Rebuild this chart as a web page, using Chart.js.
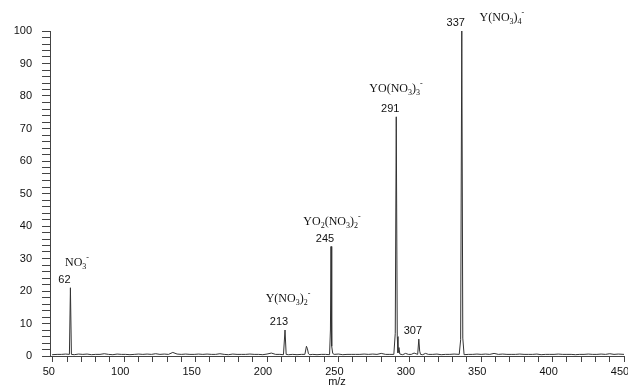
<!DOCTYPE html>
<html>
<head>
<meta charset="utf-8">
<script src="https://cdn.jsdelivr.net/npm/chart.js@4"></script>
<style>
    body { margin: 0; background: #fff; }
    canvas { display: block; }
</style>
</head>
<body>
<canvas id="spectrum" width="628" height="390"></canvas>
<script>
// m/z values and relative intensities
const mzValues = [
    49.5, 53, 56, 59, 61.6, 62.3, 63, 65, 68, 71, 74, 77, 80, 83, 86, 89, 92, 95, 98,
    101, 104, 107, 110, 113, 116, 119, 122, 125, 128, 131, 134, 137, 140, 143, 146, 149,
    152, 155, 158, 161, 164, 167, 170, 173, 176, 179, 182, 185, 188, 191, 194, 197, 200,
    203, 206, 209, 211.5, 212.6, 213.4, 215, 218, 221, 224, 226.5, 227.6, 228.3, 229, 230,
    232, 235, 238, 241, 243.8, 244.4, 244.8, 245.3, 246, 247, 250, 253, 256, 259, 262,
    265, 268, 271, 274, 277, 280, 283, 286, 288.8, 289.8, 290.5, 291.2, 291.7, 292.4, 293,
    295, 297, 299, 301, 303, 305.5, 306.3, 306.9, 307.5, 309, 311, 313, 316, 319, 322,
    325, 328, 331, 334.6, 335.6, 336.4, 337.1, 338, 341, 344, 347, 350, 353, 356, 359,
    362, 365, 368, 371, 374, 377, 380, 383, 386, 389, 392, 395, 398, 401, 404, 407, 410,
    413, 416, 419, 422, 425, 428, 431, 434, 437, 440, 443, 446, 450
];
const intensities = [
    0.4, 0.5, 0.5, 0.6, 0.5, 21, 0.5, 0.4, 0.6, 0.5, 0.6, 0.4, 0.5, 0.5, 0.7, 0.5, 0.4, 0.6, 0.5,
    0.5, 0.4, 0.5, 0.6, 0.5, 0.6, 0.5, 0.7, 0.5, 0.6, 0.5, 1.1, 0.6, 0.5, 0.6, 0.5, 0.5,
    0.6, 0.5, 0.6, 0.5, 0.5, 0.7, 0.5, 0.4, 0.6, 0.5, 0.5, 0.5, 0.6, 0.5, 0.5, 0.4, 0.6,
    0.9, 0.5, 0.5, 0.4, 8, 0.5, 0.4, 0.5, 0.4, 0.5, 0.5, 3, 2.2, 0.7, 0.4,
    0.5, 0.4, 0.5, 0.5, 0.4, 8, 33.7, 3, 0.8, 0.5, 0.6, 0.4, 0.5, 0.5, 0.5,
    0.5, 0.6, 0.5, 0.6, 0.5, 0.8, 0.5, 0.5, 0.5, 7, 73.6, 6, 1.0, 2.6, 0.6,
    0.4, 0.8, 0.5, 0.5, 0.9, 0.5, 5.2, 1.5, 0.5, 0.4, 0.8, 0.5, 0.5, 0.6, 0.4,
    0.5, 0.5, 0.6, 0.5, 5, 100, 5.5, 0.4, 0.5, 0.5, 0.6, 0.5, 0.6, 0.5, 0.8,
    0.5, 0.6, 0.5, 0.5, 0.5, 0.6, 0.5, 0.5, 0.5, 0.6, 0.4, 0.5, 0.5, 0.5, 0.6, 0.5, 0.5,
    0.5, 0.4, 0.5, 0.5, 0.6, 0.5, 0.5, 0.6, 0.5, 0.7, 0.5, 0.6, 0.5
];

// peak numbers written above the peaks
const peakLabels = ['62', '213', '245', '291', '307', '337'];
const peakMz = [62.3, 212.6, 244.8, 290.5, 306.3, 336.4];

// ion formulas: "_" = next char subscript, "^" = next char superscript
const ionNames = ['NO_3^-', 'Y(NO_3)_2^-', 'YO_2(NO_3)_2^-', 'YO(NO_3)_3^-', 'Y(NO_3)_4^-'];
const ionMz = [66.9, 214.7, 245.5, 290.3, 364.5];
const ionLevel = [28.9, 17.8, 41.5, 82.5, 104.3];

const points = mzValues.map((x, i) => ({ x: x, y: intensities[i] }));

function peakHeight(mz) {
    let best = 0;
    mzValues.forEach((x, i) => {
        if (Math.abs(x - mz) < 1.2 && intensities[i] > best) best = intensities[i];
    });
    return best;
}

function drawFormula(ctx, str, cx, cy) {
    const parts = [];
    for (let i = 0; i < str.length; i++) {
        const c = str[i];
        if (c === '_' || c === '^') {
            parts.push({ t: str[i + 1], kind: c === '_' ? 'sub' : 'sup' });
            i++;
        } else {
            parts.push({ t: c, kind: 'normal' });
        }
    }
    const fontFor = k => k === 'normal' ? '12px "Liberation Serif"' : '8px "Liberation Serif"';
    let width = 0;
    parts.forEach(p => {
        ctx.font = fontFor(p.kind);
        p.w = ctx.measureText(p.t).width;
        width += p.w;
    });
    let x = cx - width / 2;
    const base = cy + 4;
    ctx.textBaseline = 'alphabetic';
    ctx.textAlign = 'left';
    parts.forEach(p => {
        ctx.font = fontFor(p.kind);
        let y = base;
        if (p.kind === 'sub') y = base + 3;
        if (p.kind === 'sup') y = base - 6;
        ctx.fillText(p.t, x, y);
        x += p.w;
    });
}

const labelPlugin = {
    id: 'peakLabels',
    afterDraw(chart) {
        const ctx = chart.ctx;
        const xs = chart.scales.x;
        const ys = chart.scales.y;
        ctx.save();
        ctx.fillStyle = '#111';

        // numbers above the peaks
        ctx.font = '11px "Liberation Sans"';
        ctx.textAlign = 'center';
        ctx.textBaseline = 'middle';
        peakLabels.forEach((txt, i) => {
            const px = xs.getPixelForValue(peakMz[i]);
            const py = ys.getPixelForValue(peakHeight(peakMz[i]));
            ctx.fillText(txt, px - 6, py - 8);
        });

        // ion formulas
        ionNames.forEach((name, i) => {
            drawFormula(ctx, name, xs.getPixelForValue(ionMz[i]), ys.getPixelForValue(ionLevel[i]));
        });
        ctx.restore();
    }
};

new Chart(document.getElementById('spectrum'), {
    type: 'line',
    data: {
        datasets: [{
            data: points,
            borderColor: '#333',
            borderWidth: 1,
            pointRadius: 0,
            tension: 0
        }]
    },
    options: {
        responsive: false,
        animation: false,
        layout: { padding: { top: 31, right: 4, left: 0, bottom: 0 } },
        plugins: {
            legend: { display: false },
            tooltip: { enabled: false }
        },
        scales: {
            x: {
                type: 'linear',
                min: 48,
                max: 450,
                afterFit(scale) {
                    scale.height = 34;
                    scale.paddingLeft = 0;
                    scale.paddingRight = 0;
                },
                border: { color: '#444', width: 1 },
                grid: { drawOnChartArea: false, tickLength: 6, color: '#444' },
                ticks: {
                    stepSize: 10,
                    autoSkip: false,
                    includeBounds: false,
                    maxRotation: 0,
                    padding: 3,
                    labelOffset: -4,
                    color: '#111',
                    font: { family: 'Liberation Sans', size: 11 },
                    callback: v => v % 50 === 0 ? v : ''
                },
                title: {
                    display: true,
                    text: 'm/z',
                    color: '#111',
                    font: { family: 'Liberation Sans', size: 11 },
                    padding: { top: 0, bottom: 1 }
                }
            },
            y: {
                min: 0,
                max: 100,
                afterFit(scale) {
                    scale.width = 50;
                },
                border: { color: '#444', width: 1 },
                grid: { drawOnChartArea: false, tickLength: 8, color: '#444' },
                ticks: {
                    stepSize: 2,
                    autoSkip: false,
                    padding: 10,
                    color: '#111',
                    font: { family: 'Liberation Sans', size: 11 },
                    callback: v => v % 10 === 0 ? v : ''
                }
            }
        }
    },
    plugins: [labelPlugin]
});
</script>
</body>
</html>
